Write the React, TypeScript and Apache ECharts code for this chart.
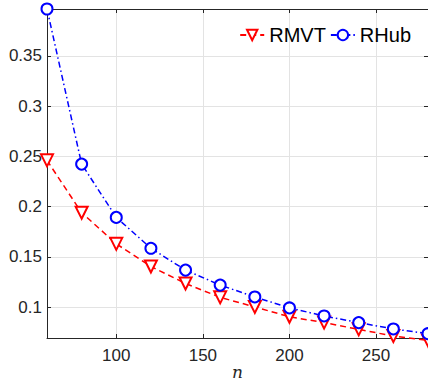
import React, { useEffect, useRef } from "react";
import * as echarts from "echarts";

const nValues = [60, 80, 100, 120, 140, 160, 180, 200, 220, 240, 260, 280];
const rmvt = [0.246, 0.194, 0.163, 0.1405, 0.1236, 0.1098, 0.1003, 0.0905, 0.0847, 0.078, 0.0713, 0.067];
const rhub = [0.3965, 0.2423, 0.1893, 0.1586, 0.1369, 0.122, 0.1102, 0.0993, 0.0913, 0.0847, 0.0784, 0.0737];
const seriesNames = ["RMVT", "RHub"];

const axisColor = "#262626";
const gridColor = "#e3e3e3";
const font = "Liberation Sans, Arial, Helvetica, sans-serif";

export default function App() {
  const ref = useRef<HTMLDivElement>(null);
  useEffect(() => {
    if (!ref.current) return;
    const chart = echarts.init(ref.current, undefined, { renderer: "svg" });
    const pair = (ys: number[]) => nValues.map((x, i) => [x, ys[i]]);
    chart.setOption({
      animation: false,
      backgroundColor: "#fff",
      grid: { left: 47, right: 0, top: 9, bottom: 46, containLabel: false, outerBoundsMode: "none" },
      legend: {
        top: 20,
        right: 12,
        itemWidth: 24,
        itemHeight: 13,
        itemGap: 4,
        textStyle: { fontSize: 20, color: "#000", fontFamily: font },
        data: seriesNames,
      },
      xAxis: [
        {
          type: "value",
          min: 60,
          max: 280,
          position: "bottom",
          name: "n",
          nameLocation: "middle",
          nameGap: 25,
          nameMoveOverlap: false,
          nameTextStyle: { fontFamily: "DejaVu Serif, Liberation Serif, serif", fontStyle: "italic", fontSize: 17, color: axisColor },
          axisLine: { show: true, lineStyle: { color: axisColor, width: 1 } },
          axisTick: { show: true, inside: true, length: 4, lineStyle: { color: axisColor } },
          axisLabel: { showMinLabel: false, showMaxLabel: false, fontSize: 17, color: axisColor, fontFamily: font, margin: 9 },
          splitLine: { show: true, lineStyle: { color: gridColor, width: 1 } },
        },
        {
          type: "value",
          min: 60,
          max: 280,
          position: "top",
          axisLine: { show: true, lineStyle: { color: axisColor, width: 1 } },
          axisTick: { show: true, inside: true, length: 4, lineStyle: { color: axisColor } },
          axisLabel: { show: false },
          splitLine: { show: false },
        },
      ],
      yAxis: [
        {
          type: "value",
          min: 0.0694,
          max: 0.3965,
          position: "left",
          axisLine: { show: true, lineStyle: { color: axisColor, width: 1 } },
          axisTick: { show: true, inside: true, length: 4, lineStyle: { color: axisColor } },
          axisLabel: { showMinLabel: false, showMaxLabel: false, fontSize: 17, color: axisColor, fontFamily: font, margin: 5 },
          splitLine: { show: true, lineStyle: { color: gridColor, width: 1 } },
        },
        {
          type: "value",
          min: 0.0694,
          max: 0.3965,
          position: "right",
          axisLine: { show: true, lineStyle: { color: axisColor, width: 1 } },
          axisTick: { show: true, inside: true, length: 4, lineStyle: { color: axisColor } },
          axisLabel: { show: false },
          splitLine: { show: false },
        },
      ],
      series: [
        {
          name: seriesNames[0],
          type: "line",
          data: pair(rmvt),
          clip: false,
          symbol: "emptyTriangle",
          symbolRotate: 180,
          symbolSize: 12,
          color: "#ff0000",
          itemStyle: { color: "#ff0000", borderWidth: 1.5 },
          lineStyle: { color: "#ff0000", width: 1.5, type: [6, 4] },
          z: 3,
        },
        {
          name: seriesNames[1],
          type: "line",
          data: pair(rhub),
          clip: false,
          symbol: "emptyCircle",
          symbolSize: 11,
          color: "#0000ff",
          itemStyle: { color: "#0000ff", borderWidth: 1.5 },
          lineStyle: { color: "#0000ff", width: 1.5, type: [6, 3, 1.5, 3] },
          z: 4,
        },
      ],
    });
    return () => chart.dispose();
  }, []);
  return <div ref={ref} style={{ position: "fixed", left: 0, top: 0, width: 428, height: 384 }} />;
}
